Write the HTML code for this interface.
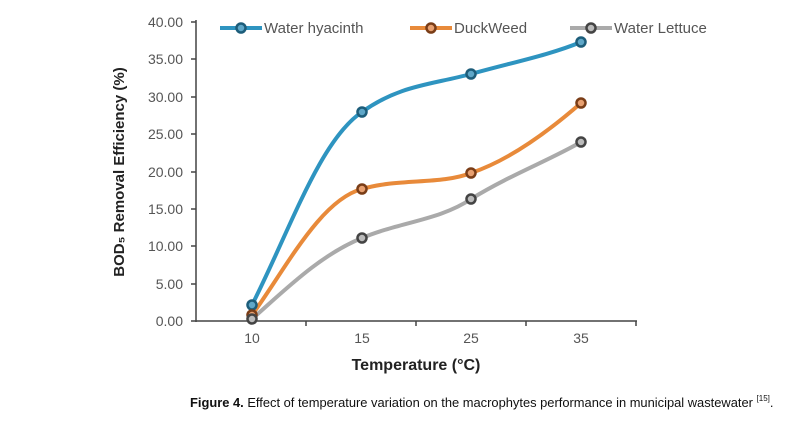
<!DOCTYPE html>
<html><head><style>
body{margin:0;background:#fff;width:797px;height:430px;overflow:hidden;font-family:"Liberation Sans",sans-serif}
</style></head><body>
<svg width="797" height="430" viewBox="0 0 797 430" style="position:absolute;left:0;top:0">
<g font-family="Liberation Sans,sans-serif" font-size="14" fill="#555" text-anchor="end">
<text x="183" y="326">0.00</text><text x="183" y="289">5.00</text><text x="183" y="251">10.00</text>
<text x="183" y="214">15.00</text><text x="183" y="177">20.00</text><text x="183" y="139">25.00</text>
<text x="183" y="102">30.00</text><text x="183" y="64">35.00</text><text x="183" y="27">40.00</text>
</g>
<g stroke="#444" stroke-width="1.5">
<line x1="196" y1="20" x2="196" y2="322"/><line x1="196" y1="321" x2="637" y2="321"/>
<line x1="191" y1="22" x2="196" y2="22"/><line x1="191" y1="59" x2="196" y2="59"/><line x1="191" y1="97" x2="196" y2="97"/>
<line x1="191" y1="134" x2="196" y2="134"/><line x1="191" y1="172" x2="196" y2="172"/><line x1="191" y1="209" x2="196" y2="209"/>
<line x1="191" y1="246" x2="196" y2="246"/><line x1="191" y1="284" x2="196" y2="284"/><line x1="191" y1="321" x2="196" y2="321"/>
<line x1="306" y1="321" x2="306" y2="326"/><line x1="416" y1="321" x2="416" y2="326"/><line x1="526" y1="321" x2="526" y2="326"/><line x1="636" y1="321" x2="636" y2="326"/>
</g>
<g font-size="14" fill="#555" text-anchor="middle">
<text x="252" y="343">10</text><text x="362" y="343">15</text><text x="471" y="343">25</text><text x="581" y="343">35</text>
</g>
<text x="416" y="370" font-size="16" font-weight="bold" fill="#222" text-anchor="middle">Temperature (°C)</text>
<text transform="translate(124,172) rotate(-90)" font-size="15" font-weight="bold" fill="#222" text-anchor="middle">BOD₅ Removal Efficiency (%)</text>
<g fill="none" stroke-width="4" stroke-linecap="round">
<path d="M252,305 C290,230 320,140 362,112 C400,85 430,85 471,74 C510,63 550,55 581,42" stroke="#2e94c0"/>
<path d="M252,315 C285,270 320,200 362,189 C400,178 440,185 471,173 C510,160 550,130 581,103" stroke="#e88a3a"/>
<path d="M252,319 C285,290 320,255 362,238 C400,222 440,220 471,199 C510,175 550,160 581,142" stroke="#aaa"/>
</g>
<g stroke-width="2.5">
<circle cx="252" cy="305" r="4.5" stroke="#1d5d7a" fill="#5fa7c8"/><circle cx="362" cy="112" r="4.5" stroke="#1d5d7a" fill="#5fa7c8"/>
<circle cx="471" cy="74" r="4.5" stroke="#1d5d7a" fill="#5fa7c8"/><circle cx="581" cy="42" r="4.5" stroke="#1d5d7a" fill="#5fa7c8"/>
<circle cx="252" cy="315" r="4.5" stroke="#7a3d17" fill="#e8a070"/><circle cx="362" cy="189" r="4.5" stroke="#7a3d17" fill="#e8a070"/>
<circle cx="471" cy="173" r="4.5" stroke="#7a3d17" fill="#e8a070"/><circle cx="581" cy="103" r="4.5" stroke="#7a3d17" fill="#e8a070"/>
<circle cx="252" cy="319" r="4.5" stroke="#444" fill="#bbb"/><circle cx="362" cy="238" r="4.5" stroke="#444" fill="#bbb"/>
<circle cx="471" cy="199" r="4.5" stroke="#444" fill="#bbb"/><circle cx="581" cy="142" r="4.5" stroke="#444" fill="#bbb"/>
</g>
<g stroke-width="4">
<line x1="220" y1="28" x2="262" y2="28" stroke="#2e94c0"/><line x1="410" y1="28" x2="452" y2="28" stroke="#e88a3a"/><line x1="570" y1="28" x2="612" y2="28" stroke="#aaa"/>
</g>
<g stroke-width="2.5">
<circle cx="241" cy="28" r="4.5" stroke="#1d5d7a" fill="#5fa7c8"/><circle cx="431" cy="28" r="4.5" stroke="#7a3d17" fill="#e8a070"/><circle cx="591" cy="28" r="4.5" stroke="#444" fill="#bbb"/>
</g>
<g font-size="15" fill="#555">
<text x="264" y="33">Water hyacinth</text><text x="454" y="33">DuckWeed</text><text x="614" y="33">Water Lettuce</text>
</g>
<text x="190" y="407" font-size="12.9" fill="#111"><tspan font-weight="bold">Figure 4.</tspan> Effect of temperature variation on the macrophytes performance in municipal wastewater <tspan font-size="8" dy="-6">[15]</tspan><tspan dy="6">.</tspan></text>
</svg>
</body></html>
